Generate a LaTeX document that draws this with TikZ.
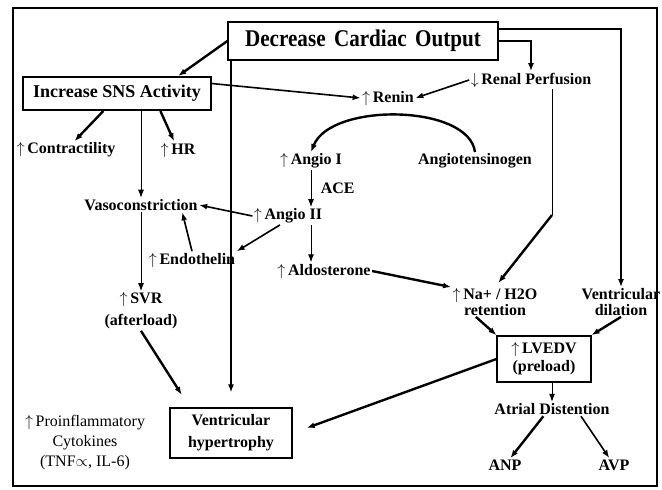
\documentclass[tikz,border=0pt]{standalone}
\usepackage{fontspec}
\setmainfont{Liberation Serif}
\newfontfamily\narrowserif[FakeStretch=0.88]{Liberation Serif}
\usetikzlibrary{arrows.meta}
\newcommand{\incr}{$\uparrow$\,}
\newcommand{\decr}{$\downarrow$\,}

\begin{document}
\begin{tikzpicture}[
  x=0.75pt, y=-0.75pt,
  >={Latex[length=6pt,width=4.5pt]},
  box/.style    = {draw, line width=1.3pt, align=center, inner sep=2pt,
                   font=\fontsize{12}{16.5}\selectfont\bfseries},
  lbl/.style    = {align=center, inner sep=1pt,
                   font=\fontsize{12}{15}\selectfont\bfseries},
  arrow/.style  = {->, line width=0.7pt},
  marrow/.style = {->, line width=1.2pt},
  tarrow/.style = {->, line width=1.8pt},
  gap/.style    = {shorten >=11pt}
]

%% ---- frame ---------------------------------------------------------------
\useasboundingbox (0,0) rectangle (662,490);
\draw[line width=1.5pt] (13,8) rectangle (657,486);

%% ---- cardiac output and the sympathetic side ------------------------------
\node[box, line width=1.5pt, font=\narrowserif\fontsize{18}{21}\selectfont\bfseries,
      minimum width=202pt, minimum height=29pt] (dco) at (363,41)
  {Decrease\hspace{.35em}Cardiac\hspace{.35em}Output};
\node[box, font=\fontsize{13.5}{16}\selectfont\bfseries,
      minimum width=141pt, minimum height=25pt] (sns) at (117,93.5)
  {Increase SNS Activity};
\node[lbl] (contr) at (66,150)  {\incr Contractility};
\node[lbl] (hr)    at (178,150) {\incr HR};
\node[lbl] (vasoc) at (141,205) {Vasoconstriction};
\node[lbl] (endo)  at (192,260) {\incr Endothelin};
\node[lbl, font=\fontsize{12}{16.5}\selectfont\bfseries] (svr) at (141,311)
  {\incr SVR\\(afterload)};
\node[box, minimum width=91.5pt, minimum height=37.5pt] (vhyp) at (231,433)
  {Ventricular\\hypertrophy};
\node[lbl, font=\fontsize{12}{15}\selectfont] (cyto) at (85,443)
  {\incr Proinflammatory\\Cytokines\\(TNF$\propto$, IL-6)};

%% ---- renin - angiotensin ---------------------------------------------------
\node[lbl] (renin) at (388,98)  {\incr Renin};
\node[lbl] (renal) at (531,80)  {\decr Renal Perfusion};
\node[lbl] (ang1)  at (311,161) {\incr Angio I};
\node[lbl] (angt)  at (475,161) {Angiotensinogen};
\node[lbl] (ang2)  at (288,216) {\incr Angio II};
\node[lbl] (aldo)  at (324,271) {\incr Aldosterone};

%% ---- volume side -------------------------------------------------------------
\node[lbl, font=\fontsize{12}{11.5}\selectfont\bfseries] (na) at (495,302)
  {\incr Na+ / H2O\\retention};
\node[lbl, font=\fontsize{12}{11.5}\selectfont\bfseries] (vdil) at (621,302)
  {Ventricular\\dilation};
\node[box, font=\fontsize{12}{13.5}\selectfont\bfseries,
      minimum width=70pt, minimum height=34.5pt] (lvedv) at (544,359)
  {\incr LVEDV\\(preload)};
\node[lbl] (atr) at (552,409) {Atrial Distention};
\node[lbl] (anp) at (505,465) {ANP};
\node[lbl] (avp) at (614,465) {AVP};

%% ---- connectors from the top box ---------------------------------------------
\draw[tarrow] (dco.west) -- (sns.16);
\draw[tarrow] (dco.east) -| (renal);
\draw[tarrow] (dco.5) -| (vdil);
\draw[tarrow, line width=2.2pt, gap] (dco.south -| vhyp) -- (vhyp);

%% ---- sympathetic branch --------------------------------------------------------
\draw[tarrow] (sns.-128) -- (contr);
\draw[tarrow] (sns.-22) -- (hr);
\draw[arrow] (sns.south -| vasoc) -- (vasoc);
\draw[marrow] (sns.6) -- (renin.west);
\draw[arrow] (vasoc) -- (svr);
\draw[tarrow, gap] (svr.south) -- (vhyp.148);

%% ---- renin cascade -----------------------------------------------------------
\draw[marrow] (renal.west) -- (renin.east);
\draw[tarrow] (angt.north) .. controls +(-6,-48) and +(20,-50) .. (ang1.north);
\draw[arrow] (ang1.south) -- node[lbl, right=6pt] {ACE} (ang1.south |- ang2.north);
\draw[arrow] (ang2.south -| ang1) -- (aldo.north -| ang1);
\draw[marrow] (ang2.west) -- (vasoc.east);
\draw[marrow] (ang2.-132) -- (endo.north east);
\draw[marrow] (endo.north) -- (vasoc.-10);

%% ---- salt, water and preload -------------------------------------------------
\coordinate (rbend) at (552,215);
\draw[line width=0.7pt] (renal.south -| rbend) -- (rbend);
\draw[tarrow, shorten >=4pt] (rbend) -- (na.north);
\draw[tarrow] (aldo.east) -- (na.north west);
\draw[tarrow] (na.-142) -- (lvedv.north west);
\draw[tarrow] (vdil.south) -- (lvedv.north east);
\draw[tarrow, gap] (lvedv.west) -- (vhyp.east);
\draw[arrow] (lvedv.south -| atr) -- (atr);
\draw[tarrow] (atr.-140) -- (anp);
\draw[marrow] (atr.-14) -- (avp);

\end{tikzpicture}
\end{document}
